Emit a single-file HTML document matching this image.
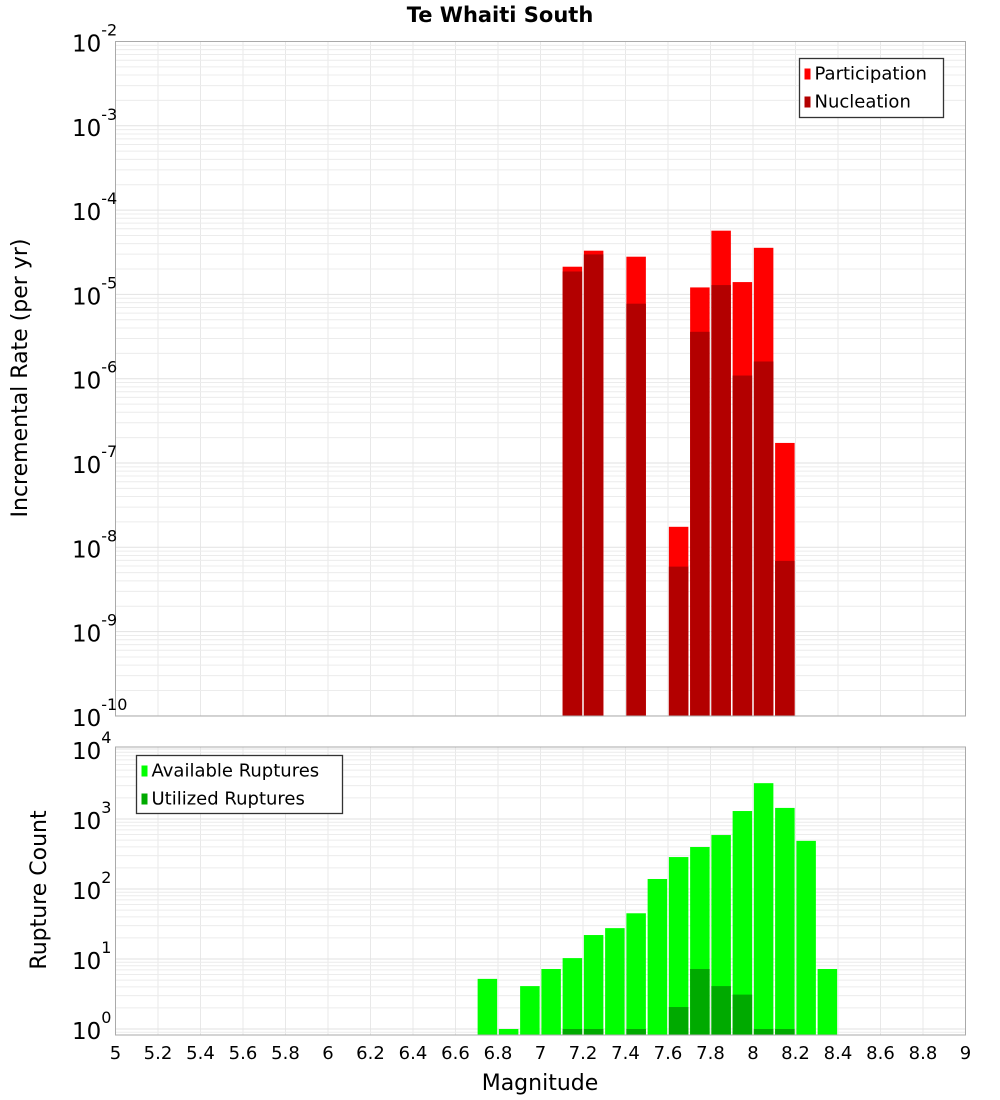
<!DOCTYPE html>
<html><head><meta charset="utf-8"><style>
html,body{margin:0;padding:0;background:#fff;width:1000px;height:1100px;overflow:hidden}
svg{font-family:"DejaVu Sans","Liberation Sans",sans-serif}
</style></head><body>
<svg id="chart" width="1000" height="1100" xmlns="http://www.w3.org/2000/svg">
<text x="500" y="22" text-anchor="middle" font-size="21" font-weight="bold">Te Whaiti South</text>
<g id="topPanel"></g>
<g id="botPanel"></g>
<text transform="translate(27,378) rotate(-90)" text-anchor="middle" font-size="22">Incremental Rate (per yr)</text>
<text transform="translate(46,890) rotate(-90)" text-anchor="middle" font-size="22">Rupture Count</text>
<text x="540" y="1090" text-anchor="middle" font-size="22">Magnitude</text>
</svg>
<script>
const rateMags = [7.15, 7.25, 7.45, 7.65, 7.75, 7.85, 7.95, 8.05, 8.15];
const participation = [2.13e-5, 3.3e-5, 2.8e-5, 1.75e-8, 1.21e-5, 5.7e-5, 1.4e-5, 3.57e-5, 1.73e-7];
const nucleation = [1.87e-5, 2.98e-5, 7.76e-6, 5.9e-9, 3.6e-6, 1.29e-5, 1.09e-6, 1.6e-6, 6.9e-9];
const countMags = [6.75, 6.85, 6.95, 7.05, 7.15, 7.25, 7.35, 7.45, 7.55, 7.65, 7.75, 7.85, 7.95, 8.05, 8.15, 8.25, 8.35];
const available = [5.2, 1.0, 4.1, 7.2, 10.3, 22, 27.6, 45, 139, 286, 398, 590, 1300, 3250, 1440, 487, 7.2];
const utilMags = [7.15, 7.25, 7.45, 7.65, 7.75, 7.85, 7.95, 8.05, 8.15];
const utilized = [1, 1, 1, 2.06, 7.2, 4.1, 3.1, 1, 1];
const xTicks = [5,5.2,5.4,5.6,5.8,6,6.2,6.4,6.6,6.8,7,7.2,7.4,7.6,7.8,8,8.2,8.4,8.6,8.8,9];
const topExps = [-2,-3,-4,-5,-6,-7,-8,-9,-10];
const botExps = [4,3,2,1,0];

const NS='http://www.w3.org/2000/svg';
const L=115.5, R=965.5;
const X = m => L + (m-5)/4*(R-L);
const BW = 19.5;
const yTop = v => 41.5 - 84.3*(Math.log10(v)+2);
const yBot = v => 1029 - 70*Math.log10(v);
function mk(parent, tag, attrs){const e=document.createElementNS(NS,tag);for(const k in attrs)e.setAttribute(k,attrs[k]);parent.appendChild(e);return e;}

function panel(g, t, b, yf, lo, hi, pref){
  const clip = mk(g,'clipPath',{id:pref+'clip'});
  mk(clip,'rect',{x:L,y:t,width:R-L,height:b-t});
  const grid = mk(g,'g',{'clip-path':'url(#'+pref+'clip)'});
  
  
  for(const m of xTicks){mk(grid,'line',{x1:X(m),x2:X(m),y1:t,y2:b,stroke:'#e8e8e8','stroke-width':1});}
  for(let e=lo;e<=hi;e++){for(let k=1;k<10;k++){const y=yf(k*Math.pow(10,e));if(y<t||y>b)continue;mk(grid,'line',{x1:L,x2:R,y1:y,y2:y,stroke:k==1?'#e2e2e2':'#ececec','stroke-width':1});}}
  return grid;
}
const topG=document.getElementById('topPanel'), botG=document.getElementById('botPanel');
panel(topG,41.5,716,yTop,-10,-2,'rate');
panel(botG,747,1035,yBot,-1,4,'count');

function bars(g, mags, vals, yf, base, color, name){
  mags.forEach((m,i)=>{const y=yf(vals[i]);
    const r=mk(g,'rect',{x:X(m)-BW/2,y:y,width:BW,height:base-y,fill:color});
    
    
  });
}
bars(topG,rateMags,participation,yTop,716,'#ff0000','participation-bar');
bars(topG,rateMags,nucleation,yTop,716,'#b30000','nucleation-bar');
bars(botG,countMags,available,yBot,1035,'#00ff00','available-bar');
bars(botG,utilMags,utilized,yBot,1035,'#00aa00','utilized-bar');

mk(topG,'rect',{x:L,y:41.5,width:R-L,height:716-41.5,fill:'none',stroke:'#aaa'});
mk(botG,'rect',{x:L,y:747,width:R-L,height:1035-747,fill:'none',stroke:'#aaa'});

function ylab(g, e, y){
  const t=mk(g,'text',{x:72,y:y+10,'text-anchor':'start','font-size':23});
  
  
  const s1=mk(t,'tspan',{}); s1.textContent='10';
  const s2=mk(t,'tspan',{dy:-16,'font-size':16}); s2.textContent=String(e);
}
topExps.forEach(e=>ylab(topG,e,yTop(Math.pow(10,e))));
botExps.forEach(e=>ylab(botG,e,yBot(Math.pow(10,e))));
xTicks.forEach(m=>{const t=mk(botG,'text',{x:X(m),y:1059,'text-anchor':'middle','font-size':18});
  
  
  t.textContent=String(m);});

function legend(g,x,y,w,h,items,name){
  const lg=mk(g,'g',{});
  
  
  mk(lg,'rect',{x:x,y:y,width:w,height:h,fill:'#fff',stroke:'#333','stroke-width':1.3});
  items.forEach((it,i)=>{const cy=y+15+i*28;
    mk(lg,'rect',{x:x+5,y:cy-5,width:6,height:11,fill:it[1]});
    const t=mk(lg,'text',{x:x+15,y:cy+6,'font-size':18}); t.textContent=it[0];
    
    
  });
}
legend(topG,799.5,58.5,144,59,[['Participation','#ff0000'],['Nucleation','#b30000']],'rate-legend');
legend(botG,136.5,755.5,206,58,[['Available Ruptures','#00ff00'],['Utilized Ruptures','#00aa00']],'count-legend');
</script>
</body></html>
